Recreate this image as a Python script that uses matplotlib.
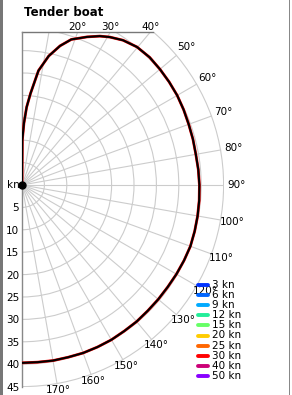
import numpy as np
import matplotlib
matplotlib.use("Agg")
import matplotlib.pyplot as plt
from matplotlib.patches import Circle, Rectangle
from matplotlib.lines import Line2D

# polar diagram: boat speed (kn) against true wind angle (deg)
angles = [0, 0.4, 1.8, 3.4, 5.3, 8.2, 11.7, 15.3, 18.7, 23.7, 27.6, 30.7,
          34.9, 39.8, 45, 50, 55, 60, 65, 70, 75, 80, 85, 90, 95, 100, 105,
          110, 115, 120, 125, 130, 135, 140, 145, 150, 155, 160, 165, 170,
          175, 180]
speeds = [0, 10.0, 13.8, 17.4, 20.5, 25.8, 29.4, 32.2, 34.3, 36.1, 37.5, 38.4,
          39.4, 40.1, 40.3, 40.2, 40.1, 40.0, 39.8, 39.6, 39.5, 39.4, 39.5,
          39.6, 39.7, 39.8, 39.9, 40.0, 39.9, 39.8, 39.7, 39.7, 39.7, 39.8,
          39.8, 39.9, 39.9, 39.9, 39.8, 39.8, 39.7, 39.7]

wind_labels = ["3 kn", "6 kn", "9 kn", "12 kn", "15 kn", "20 kn", "25 kn",
               "30 kn", "40 kn", "50 kn"]
wind_colors = ["#0033ff", "#0066ff", "#00aaff", "#22ee99", "#66ff66",
               "#ffcc00", "#ff6600", "#ff0000", "#cc0077", "#8800ff"]

radial_ticks = [5, 10, 15, 20, 25, 30, 35, 40, 45]
angle_ticks = list(range(10, 180, 10))
angle_labels = list(range(20, 180, 10))

rmax = 45
top = 34.15  # plot area is cut at the top

W, H = 292, 395
fig = plt.figure(figsize=(W / 100, H / 100), dpi=100)
fig.patch.set_facecolor("white")

# axes box in pixels: left 22, right 223.6, top 32, bottom 386.6
ax = fig.add_axes([22 / W, (H - 386.6) / H, 201.6 / W, 354.6 / H])
ax.set_xlim(0, rmax)
ax.set_ylim(-rmax, top)
ax.set_aspect("equal", adjustable="box")
ax.patch.set_alpha(0)
for s in ["top", "right", "bottom"]:
    ax.spines[s].set_visible(False)
ax.spines["left"].set_color("#888888")
ax.spines["left"].set_linewidth(1)
ax.set_xticks([])
ax.set_yticks([-r for r in radial_ticks])
ax.set_yticklabels([str(r) for r in radial_ticks], fontsize=7.5)
ax.tick_params(axis="y", length=0, pad=2)

# grid: circles and spokes
for r in radial_ticks:
    ax.add_patch(Circle((0, 0), r, fill=False, ec="#cccccc", lw=0.8, zorder=1))
for a in angle_ticks:
    t = np.radians(a)
    ax.plot([0, rmax * np.sin(t)], [0, rmax * np.cos(t)], color="#cccccc",
            lw=0.8, zorder=1)

# top border line
ax.plot([0, np.sqrt(rmax ** 2 - top ** 2)], [top, top], color="#777777",
        lw=1, clip_on=False, zorder=2)

# angle labels
for a in angle_labels:
    t = np.radians(a)
    r_lab = 47.9 - 1.5 * max(0, -np.cos(t))
    x, y = r_lab * np.sin(t), r_lab * np.cos(t)
    if y > top:
        x, y = top * np.tan(t), top + 1.1
    ax.text(x, y, f"{a}°", fontsize=7.5, ha="center", va="center",
            clip_on=False)

# speed curve
th = np.radians(angles)
sp = np.array(speeds)
ax.plot(sp * np.sin(th), sp * np.cos(th), color="#ff0000", lw=2.0, zorder=3,
        solid_joinstyle="round")
ax.plot(sp * np.sin(th), sp * np.cos(th), color="black", lw=1.5, zorder=4,
        solid_joinstyle="round")

# center dot + unit label
ax.plot([0], [0], "o", color="black", ms=5, clip_on=False, zorder=5)
ax.text(-0.5, 0, "kn", fontsize=7.5, ha="right", va="center", clip_on=False)

# legend
for i, (lab, col) in enumerate(zip(wind_labels, wind_colors)):
    yy = 1 - (285 + i * 10.1) / H
    fig.add_artist(Line2D([198 / W, 208 / W], [yy, yy], color=col, lw=2.8,
                          solid_capstyle="round"))
    fig.text(212 / W, yy, lab, fontsize=7.5, va="center", ha="left")

# title
fig.text(24 / W, 1 - 12 / H, "Tender boat", fontsize=8.5, fontweight="bold",
         va="center", ha="left")

# window borders
fig.add_artist(Rectangle((0, 0), 2.5 / W, 1, transform=fig.transFigure,
                         color="#777777", lw=0))
fig.add_artist(Rectangle((289 / W, 0), 1.2 / W, 1, transform=fig.transFigure,
                         color="#888888", lw=0))

fig.savefig("out.png", dpi=100)
